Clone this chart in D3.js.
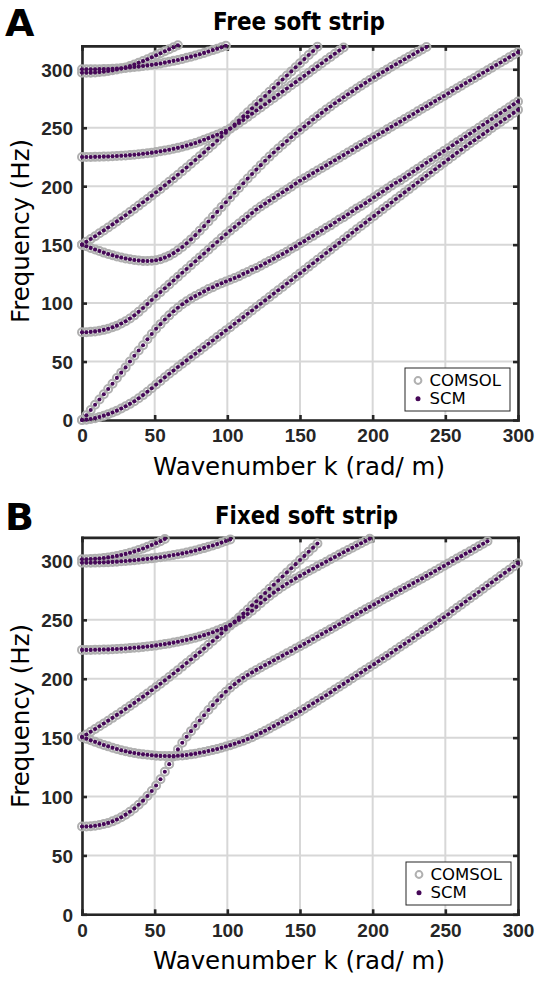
<!DOCTYPE html>
<html><head><meta charset="utf-8">
<script src="https://cdn.jsdelivr.net/npm/d3@7"></script>
<style>html,body{margin:0;padding:0;background:#fff}svg{display:block}</style>
</head><body>
<svg id="chart" width="537" height="984"></svg>
<script>
// ---------- data ----------
const xTicks = [0, 50, 100, 150, 200, 250, 300];
const yTicks = [0, 50, 100, 150, 200, 250, 300];
const seriesNames = ["COMSOL", "SCM"];
// wavenumber sampling (rad/m); index i of each branch array is at kGrid[i]
const kGrid = [0,3,6,9,12,15,18,21,24,27,30,33,36,39,42,45,48,51,54,57,60,63,66,69,72,75,78,81,84,87,90,93,96,99,102,105,108,111,114,117,120,123,126,129,132,135,138,141,144,147,150,153,156,159,162,165,168,171,174,177,180,183,186,189,192,195,198,201,204,207,210,213,216,219,222,225,228,231,234,237,240,243,246,249,252,255,258,261,264,267,270,273,276,279,282,285,288,291,294,297,300];

// ---- A: free soft strip, frequency (Hz) per branch ----
const freeBranch0a = [0,0.3,0.8,1.6,2.6,3.7,5.0,6.4,8.0,9.8,
 11.7,13.8,16.1,18.6,21.3,24.2,27.2,30.3,33.4,36.5,
 39.5,42.4,45.3,48.2,51.0,53.9,56.7,59.5,62.4,65.2,
 68.0,70.9,73.7,76.6,79.4,82.3,85.1,88.0,90.9,93.7,
 96.6,99.5,102.3,105.2,108.1,111.0,113.8,116.7,119.6,122.5,
 125.4,128.3,131.2,134.1,137.0,139.9,142.8,145.7,148.6,151.5,
 154.4,157.3,160.2,163.1,166.0,168.8,171.7,174.6,177.5,180.4,
 183.2,186.1,189.0,191.8,194.7,197.5,200.4,203.2,206.0,208.9,
 211.7,214.5,217.3,220.1,222.9,225.7,228.5,231.2,234.0,236.8,
 239.3,241.9,244.5,247.1,249.7,252.3,254.9,257.5,260.1,262.7,
 265.3];
const freeBranch0b = [0,4,8.5,13,17.5,22,26.5,31,36,40.5,
 45,50,55,59.5,64,69,73.5,78,82,86,
 89.5,93,96,99,101.5,104,106,108,110,112,
 113.5,115.5,117,118.5,120,121.5,123,125,126.5,128.5,
 130,132,134,136,138,140,142,144,146.5,148.5,
 151,153,155.5,157.5,160,162,164.5,166.5,169,171.5,
 173.5,176,178.5,181,183,185.5,188,190.5,193,195.5,
 198,200.5,203,205,207.5,210,212.5,215,217.5,220,
 222.5,225,227.5,230,232.5,235,237.5,240,242.5,245,
 247.5,250,252.5,255,257.5,260,262.5,265,267.5,270,
 272.5];
const freeBranch75 = [75,75.1,75.4,75.8,76.4,77.1,78.1,79.3,80.7,82.5,
 84.5,86.8,89.5,92.5,95.8,99.2,102.6,106,109.4,112.7,
 116,119.3,122.6,125.9,129.2,132.5,135.8,139.1,142.4,145.7,
 149,152.3,155.6,158.9,162,165,168,171,174,177,
 180,182.6,185.1,187.6,190,192.4,194.8,197.2,199.6,202.2,
 204.6,206.8,209,211.2,213.4,215.6,217.8,220,222.2,224.4,
 226.6,228.8,231,233.2,235.4,237.6,239.8,242,244.2,246.4,
 248.6,250.8,253,255.2,257.4,259.6,261.8,264,266.2,268.4,
 270.6,272.8,275,277.2,279.4,281.6,283.8,286,288.2,290.4,
 292.6,294.8,297,299.2,301.4,303.6,305.8,308,310.2,312.4,
 314.6];
const freeBranch150down = [150,148.6,147.2,145.8,144.5,143.2,142,140.9,139.9,139,
 138.2,137.5,136.9,136.4,136.1,136,136.2,136.7,137.6,138.9,
 140.6,142.7,145.2,148,151.1,154.5,158.1,161.9,165.8,169.8,
 173.9,178,182.1,186.2,190.3,194.4,198.5,202.5,206.5,210.4,
 214.2,218,221.7,225.3,228.8,232.2,235.5,238.7,241.9,245,
 248.1,251.1,254.1,257,259.9,262.7,265.5,268.2,270.9,273.5,
 276.1,278.6,281.1,283.6,286,288.4,290.8,293.1,295.4,297.7,
 299.9,302.1,304.3,306.5,308.6,310.7,312.8,314.9,317,319.1];
const freeBranch150up = [150,152.4,154.8,157.2,159.7,162.2,164.7,167.3,169.9,172.5,
 175.2,177.9,180.6,183.4,186.2,189,191.9,194.8,197.7,200.7,
 203.7,206.7,209.8,212.9,216,219.2,222.4,225.6,228.9,232.2,
 235.5,238.9,242.3,245.7,249.2,252.7,256.2,259.7,263.2,266.7,
 270.2,273.7,277.2,280.7,284.2,287.7,291.2,294.7,298.2,301.7,
 305.2,308.7,312.2,315.7,319.2];
const freeBranch225 = [225,225,225,225.1,225.2,225.3,225.4,225.6,225.8,226,
 226.3,226.6,226.9,227.3,227.7,228.2,228.7,229.3,229.9,230.5,
 231.2,232,232.8,233.7,234.7,235.8,237,238.3,239.7,241.1,
 242.6,244,245.6,247.4,249.4,251.6,254,256.6,259.3,262,
 264.7,267.4,270.1,272.8,275.5,278.2,280.9,283.6,286.3,289,
 291.7,294.4,297.1,299.8,302.5,305.2,307.9,310.6,313.3,316,
 318.7];
const freeBranch300a = [300,300,300,300,300.1,300.2,300.3,300.5,300.7,300.9,
 301.2,301.5,301.9,302.3,302.8,303.3,303.8,304.4,305,305.7,
 306.4,307.2,308,308.9,309.8,310.8,311.8,312.9,314,315.2,
 316.4,317.6,318.9,320.1];
const freeBranch300b = [297,297,297.1,297.3,297.6,298,298.5,299.1,299.8,300.6,
 301.6,302.8,304.1,305.5,307,308.6,310.3,312,313.7,315.4,
 317.1,318.8,320.5];

// ---- B: fixed soft strip, frequency (Hz) per branch ----
const fixedBranch75 = [74.5,74.6,74.8,75.2,75.8,76.6,77.6,78.9,80.5,82.4,
 84.6,87.1,89.9,93,96.5,100.4,104.7,109.3,114.6,121,
 127.5,134,140,145.6,150.8,155.5,160,164.5,169,173.4,
 177.6,181.6,185.4,189,192.3,195.4,198.2,200.8,203.2,205.4,
 207.5,209.6,211.6,213.6,215.6,217.6,219.6,221.6,223.6,225.6,
 227.6,229.6,231.6,233.7,235.8,237.9,240,242.1,244.2,246.3,
 248.4,250.5,252.6,254.7,256.8,258.9,261,263.1,265.2,267.2,
 269.2,271.2,273.2,275.2,277.2,279.2,281.2,283.2,285.2,287.3,
 289.4,291.5,293.6,295.7,297.8,299.9,302,304.1,306.2,308.3,
 310.4,312.5,314.6,316.7];
const fixedBranch150down = [150.5,149.1,147.7,146.4,145.1,143.8,142.6,141.4,140.3,139.3,
 138.4,137.6,136.9,136.3,135.8,135.4,135,134.7,134.5,134.4,
 134.3,134.4,134.6,134.9,135.3,135.8,136.4,137.1,137.8,138.6,
 139.5,140.4,141.4,142.5,143.6,144.8,146.1,147.4,148.8,150.3,
 152.2,154,155.9,157.8,159.8,161.8,163.8,165.9,168,170.1,
 172.2,174.5,176.8,179.1,181.4,183.7,186,188.4,190.8,193.2,
 195.6,198,200.4,202.8,205.2,207.6,210,212.4,214.8,217.2,
 219.6,222.1,224.6,227.1,229.6,232.1,234.6,237.1,239.6,242.1,
 244.4,247,249.6,252.2,254.8,257.5,260.2,262.9,265.6,268.3,
 271,273.7,276.4,279.1,281.8,284.5,287.2,289.9,292.6,295.3,
 298];
const fixedBranch150up = [150.5,152.7,155,157.3,159.6,162,164.4,166.8,169.3,171.8,
 174.3,176.9,179.5,182.1,184.8,187.5,190.2,193,195.8,198.6,
 201.5,204.4,207.3,210.3,213.3,216.3,219.4,222.5,225.6,228.8,
 232,235.2,238.5,241.8,245.1,248.5,251.9,255.3,258.8,262.3,
 265.8,269.3,272.8,276.3,279.8,283.3,286.8,290.3,293.8,297.3,
 300.8,304.3,307.8,311.3,314.8];
const fixedBranch225 = [224.5,224.5,224.5,224.6,224.7,224.8,224.9,225.1,225.3,225.5,
 225.7,226,226.3,226.6,227,227.4,227.8,228.3,228.8,229.4,
 230,230.7,231.4,232.2,233,233.9,234.9,235.9,237,238.2,
 239.5,240.9,242.4,244,245.8,247.8,250,252.4,255,257.7,
 261,264.2,267.3,270.3,273.1,275.8,278.3,280.7,283,285.2,
 287.3,289.4,291.4,293.4,295.4,297.4,299.4,301.4,303.4,305.4,
 307.4,309.3,311.2,313.1,315,316.9,318.8];
const fixedBranch300a = [298.5,298.5,298.5,298.6,298.7,298.8,299,299.2,299.4,299.7,
 300,300.3,300.6,301,301.4,301.8,302.2,302.7,303.2,303.8,
 304.4,305,305.7,306.4,307.2,308,308.9,309.9,310.9,312,
 313.1,314.3,315.6,316.9,318.3];
const fixedBranch300b = [301.5,301.5,301.6,301.8,302.1,302.5,303,303.6,304.3,305.1,
 306,307,308.1,309.3,310.6,312,313.5,315.1,316.8,318.6];

// ---------- layout ----------
const colors = {comsol: "#b0b0b0", scm: "#460858", axis: "#262626", grid: "#d7d7d7"};
const panels = [
  {letter: "A", title: "Free soft strip",
   branches: [freeBranch0a, freeBranch0b, freeBranch75, freeBranch150down, freeBranch150up, freeBranch225, freeBranch300a, freeBranch300b],
   top: 45.9, bottom: 420, letterY: 36, titleX: 213, titleW: 172, titleY: 30,
   xlabY: 474.5, ylabC: 231, leg: {x: 405, y: 368}},
  {letter: "B", title: "Fixed soft strip",
   branches: [fixedBranch75, fixedBranch150down, fixedBranch150up, fixedBranch225, fixedBranch300a, fixedBranch300b],
   top: 537.4, bottom: 914.3, letterY: 530, titleX: 215, titleW: 183, titleY: 524,
   xlabY: 969, ylabC: 716, leg: {x: 406, y: 862}}
];
const plotLeft = 82, plotRight = 518;

const svg = d3.select("#chart");
svg.append("rect").attr("width", 537).attr("height", 984).attr("fill", "#fff");

panels.forEach(p => {
  const g = svg.append("g");
  const x = d3.scaleLinear().domain([0, 300]).range([plotLeft, plotRight]);
  const y = d3.scaleLinear().domain([0, 320]).range([p.bottom, p.top]);

  // grid
  g.append("g").selectAll("line").data(xTicks).enter().append("line")
    .attr("x1", d => x(d)).attr("x2", d => x(d)).attr("y1", p.top).attr("y2", p.bottom)
    .attr("stroke", colors.grid).attr("stroke-width", 2);
  g.append("g").selectAll("line").data(yTicks).enter().append("line")
    .attr("y1", d => y(d)).attr("y2", d => y(d)).attr("x1", plotLeft).attr("x2", plotRight)
    .attr("stroke", colors.grid).attr("stroke-width", 2);

  // axes
  const styleAxis = a => {
    a.attr("color", colors.axis).attr("font-family", "'Liberation Sans', Arial, sans-serif")
     .attr("font-size", 19).attr("font-weight", "bold");
    a.selectAll(".domain").attr("stroke-width", 2.6).attr("stroke-linecap", "square");
    a.selectAll(".tick line").attr("stroke-width", 2.6);
  };
  const bx = g.append("g").attr("transform", `translate(0,${p.bottom})`)
    .call(d3.axisBottom(x).tickValues(xTicks).tickSizeInner(-5).tickSizeOuter(0).tickPadding(9));
  styleAxis(bx);
  const tx = g.append("g").attr("transform", `translate(0,${p.top})`)
    .call(d3.axisTop(x).tickValues(xTicks).tickSizeInner(-5).tickSizeOuter(0).tickFormat(() => ""));
  styleAxis(tx);
  const ly = g.append("g").attr("transform", `translate(${plotLeft},0)`)
    .call(d3.axisLeft(y).tickValues(yTicks).tickSizeInner(-5).tickSizeOuter(0).tickPadding(9));
  styleAxis(ly);
  ly.selectAll(".tick text").attr("dy", "0.36em");
  const ry = g.append("g").attr("transform", `translate(${plotRight},0)`)
    .call(d3.axisRight(y).tickValues(yTicks).tickSizeInner(-5).tickSizeOuter(0).tickFormat(() => ""));
  styleAxis(ry);

  // data: COMSOL rings first, then SCM dots
  const pts = p.branches.map(b => b.map((f, i) => [kGrid[i], f]));
  const cg = g.append("g");
  pts.forEach(bp => cg.selectAll(null).data(bp).enter().append("circle")
    .attr("cx", d => x(d[0])).attr("cy", d => y(d[1])).attr("r", 4)
    .attr("fill", "none").attr("stroke", colors.comsol).attr("stroke-width", 2));
  const sg = g.append("g");
  pts.forEach(bp => sg.selectAll(null).data(bp).enter().append("circle")
    .attr("cx", d => x(d[0])).attr("cy", d => y(d[1])).attr("r", 2.05)
    .attr("fill", colors.scm));

  // texts
  g.append("text").attr("x", 5).attr("y", p.letterY).text(p.letter)
    .attr("font-family", "'DejaVu Sans', sans-serif").attr("font-weight", "bold")
    .attr("font-size", 38).attr("fill", "#000");
  g.append("text").attr("x", p.titleX).attr("y", p.titleY).text(p.title)
    .attr("font-family", "'DejaVu Sans', sans-serif").attr("font-weight", "bold")
    .attr("font-size", 24).attr("fill", "#000")
    .attr("textLength", p.titleW).attr("lengthAdjust", "spacingAndGlyphs");
  g.append("text").attr("x", 299).attr("y", p.xlabY).attr("text-anchor", "middle")
    .text("Wavenumber k (rad/ m)")
    .attr("font-family", "'DejaVu Sans', sans-serif").attr("font-size", 24.5).attr("fill", "#000")
    .attr("textLength", 292).attr("lengthAdjust", "spacingAndGlyphs");
  g.append("text").attr("transform", `translate(29,${p.ylabC}) rotate(-90)`)
    .attr("text-anchor", "middle").text("Frequency (Hz)")
    .attr("font-family", "'DejaVu Sans', sans-serif").attr("font-size", 24.5).attr("fill", "#000")
    .attr("textLength", 184).attr("lengthAdjust", "spacingAndGlyphs");

  // legend
  const lg = g.append("g").attr("transform", `translate(${p.leg.x},${p.leg.y})`);
  lg.append("rect").attr("width", 105).attr("height", 43).attr("fill", "#fff")
    .attr("stroke", colors.axis).attr("stroke-width", 1);
  lg.append("circle").attr("cx", 13).attr("cy", 12.5).attr("r", 3.4)
    .attr("fill", "none").attr("stroke", colors.comsol).attr("stroke-width", 2);
  lg.append("circle").attr("cx", 13).attr("cy", 30.7).attr("r", 2.5).attr("fill", colors.scm);
  lg.selectAll("text").data(seriesNames).enter().append("text")
    .attr("x", 24.5).attr("y", (d, i) => i === 0 ? 18.3 : 35.6).text(d => d)
    .attr("font-family", "'DejaVu Sans', sans-serif").attr("font-size", 16.5).attr("fill", "#000");
});
</script>
</body></html>
